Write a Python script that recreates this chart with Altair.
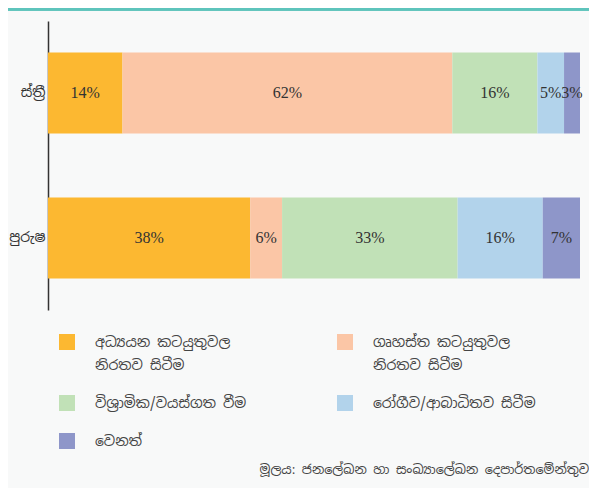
import altair as alt
import pandas as pd

genders = ["ස්ත්‍රී", "පුරුෂ"]
activities = [
    "අධ්‍යයන කටයුතුවල\nනිරතව සිටීම",
    "ගෘහස්ත කටයුතුවල\nනිරතව සිටීම",
    "විශ්‍රාමික/වයස්ගත වීම",
    "රෝගීව/ආබාධිතව සිටීම",
    "වෙනත්",
]
female = [14, 62, 16, 5, 3]
male = [38, 6, 33, 16, 7]
colors = ["#fcb831", "#fbc6a6", "#c1e1b7", "#b2d3eb", "#8e96c9"]
source_note = "මූලය: ජනලේඛන හා සංඛ්‍යාලේඛන දෙපාර්තමේන්තුව"

# legend shows entries row by row in two columns (Vega fills columns first)
legend_order = [activities[0], activities[2], activities[4], activities[1], activities[3]]

SIN_FONT = "Noto Sans Sinhala, Noto Sans, sans-serif"

rows = []
for g, vals in zip(genders, [female, male]):
    for i, (a, v) in enumerate(zip(activities, vals)):
        rows.append({"gender": g, "activity": a, "value": v, "order": i, "label": f"{v}%"})
df = pd.DataFrame(rows)

base = alt.Chart(df)

bars = base.mark_bar().encode(
    y=alt.Y(
        "gender:N",
        sort=genders,
        title=None,
        scale=alt.Scale(paddingInner=0.441, paddingOuter=0.217),
        axis=alt.Axis(
            ticks=False,
            domainColor="#333333",
            domainWidth=1.5,
            labelFontSize=14,
            labelColor="#333333",
            labelPadding=3,
            labelOffset=6,
            labelFont=SIN_FONT,
        ),
    ),
    x=alt.X("value:Q", stack="zero", scale=alt.Scale(domain=[0, 100], nice=False), axis=None),
    color=alt.Color(
        "activity:N",
        sort=activities,
        scale=alt.Scale(domain=activities, range=colors),
        legend=alt.Legend(
            title=None,
            values=legend_order,
            orient="none",
            legendX=11,
            legendY=313,
            columns=2,
            columnPadding=90,
            rowPadding=22,
            padding=0,
            symbolType="square",
            symbolSize=256,
            symbolStrokeWidth=0,
            symbolOpacity=1,
            labelOffset=20,
            labelFontSize=14,
            labelColor="#444444",
            labelFont=SIN_FONT,
            labelBaseline="top",
            labelLimit=400,
            labelExpr="split(datum.label, '\\n')",
        ),
    ),
    order=alt.Order("order:Q"),
)

text = (
    base.transform_stack(
        stack="value", groupby=["gender"], as_=["x0", "x1"], sort=[alt.SortField("order")]
    )
    .transform_calculate(mid="(datum.x0 + datum.x1) / 2")
    .mark_text(font="Liberation Serif", fontSize=16, color="#333333")
    .encode(y=alt.Y("gender:N", sort=genders), x="mid:Q", text="label:N")
)

top_rule = alt.Chart(df).mark_rule(color="#5ec4bc", strokeWidth=2.5, clip=False).encode(
    x=alt.value(-40), x2=alt.value(541), y=alt.value(-12)
)

chart = (
    alt.layer(top_rule, bars, text)
    .properties(
        width=532,
        height=289,
        autosize=alt.AutoSizeParams(type="none"),
        padding={"left": 40, "top": 13, "right": 9, "bottom": 178},
        title=alt.TitleParams(
            source_note,
            orient="bottom",
            anchor="end",
            fontSize=12.8,
            fontWeight="normal",
            color="#444444",
            font=SIN_FONT,
            offset=15,
            dx=-1,
        ),
    )
    .configure(background="#f8f9f9", style={"guide-label": {"lineHeight": 23, "dy": -6}})
    .configure_view(stroke=None)
)

chart.save("out.html", embed_options={"renderer": "svg", "actions": False})
